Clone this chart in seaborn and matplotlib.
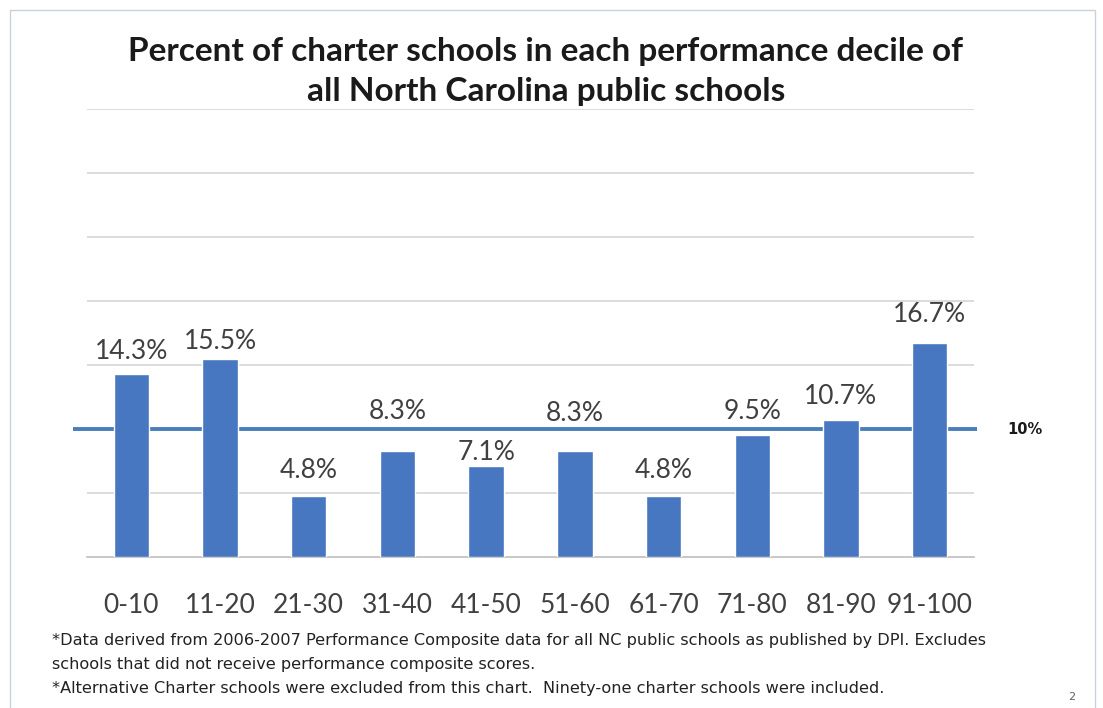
import matplotlib
matplotlib.use("Agg")
import matplotlib.pyplot as plt
from matplotlib.patches import Rectangle
from matplotlib.ticker import FixedLocator, NullFormatter
import seaborn as sns
import pandas as pd

# Performance deciles and the share of charter schools falling in each
deciles = ["0-10", "11-20", "21-30", "31-40", "41-50",
           "51-60", "61-70", "71-80", "81-90", "91-100"]
percent_charter = [14.3, 15.5, 4.8, 8.3, 7.1, 8.3, 4.8, 9.5, 10.7, 16.7]
reference_share = 10  # an even spread would put 10% in every decile

title_lines = ["Percent of charter schools in each performance decile of",
               "all North Carolina public schools"]
footnotes = [
    "*Data derived from 2006-2007 Performance Composite data for all NC public schools as published by DPI. Excludes",
    "schools that did not receive performance composite scores.",
    "*Alternative Charter schools were excluded from this chart.  Ninety-one charter schools were included.",
]

# vertical lift of each value label above its bar, in points
label_lift = [16, 12, 18, 28, 10, 27, 18, 17, 17, 21]

BAR = "#4777c1"
LINE = "#4a7ebb"
GRID = "#dcdcdc"
TEXT = "#404040"

W, H = 1103, 708
sns.set_theme(style="white")
plt.rcParams["font.family"] = ["Lato", "DejaVu Sans"]

fig = plt.figure(figsize=(W / 100, H / 100), dpi=100)
fig.patch.set_facecolor("white")

# slide frame
fig.add_artist(Rectangle((10 / W, -0.05), 1085 / W, 1.05 - 10 / H,
                         transform=fig.transFigure, fill=False,
                         edgecolor="#c9d2db", linewidth=1.0))

left, right, top, base = 87, 974, 109, 557
ax = fig.add_axes([left / W, 1 - base / H, (right - left) / W, (base - top) / H])

df = pd.DataFrame({"decile": deciles, "percent": percent_charter})
sns.barplot(data=df, x="decile", y="percent", color=BAR, saturation=1,
            width=0.4, ax=ax, zorder=3)

ax.set_xlim(-0.5, len(deciles) - 0.5)
ax.set_ylim(0, 35)
ax.set_xlabel("")
ax.set_ylabel("")

# horizontal gridlines every 5%
ax.set_yticks(range(5, 36, 5))
ax.yaxis.set_major_formatter(NullFormatter())
ax.tick_params(axis="y", length=0)
ax.grid(axis="y", color=GRID, linewidth=1.4, zorder=0)
ax.grid(axis="x", visible=False)

for side in ("left", "right", "top"):
    ax.spines[side].set_visible(False)
ax.spines["bottom"].set_color("#bfbfbf")
ax.spines["bottom"].set_linewidth(1.2)

# category labels under the bars, tick marks between categories
ax.tick_params(axis="x", which="major", length=0, pad=26,
               labelsize=19, labelcolor=TEXT)
ax.xaxis.set_minor_locator(FixedLocator([i - 0.5 for i in range(len(deciles) + 1)]))
ax.tick_params(axis="x", which="minor", length=7.5, width=1.0,
               color="#bfbfbf", direction="out")

# 10% reference line, running slightly past the plot on both sides
ax.plot([-0.66, len(deciles) - 0.47], [reference_share, reference_share],
        color=LINE, linewidth=2.8, zorder=2, clip_on=False, solid_capstyle="butt")
ax.text(1.037, reference_share, f"{reference_share}%", transform=ax.get_yaxis_transform(),
        ha="left", va="center", fontsize=10.5, fontweight="bold",
        color="#1a1a1a", family=["DejaVu Sans"])

# value labels
for i, (v, lift) in enumerate(zip(percent_charter, label_lift)):
    ax.annotate(f"{v:.1f}%", xy=(i, v), xytext=(0, lift),
                textcoords="offset points", ha="center", va="center",
                fontsize=19, color=TEXT, zorder=4)

# title
fig.text(546 / W, 1 - 61 / H, title_lines[0], ha="center", va="baseline",
         fontsize=24, fontweight="bold", color="#1a1a1a")
fig.text(546 / W, 1 - 101 / H, title_lines[1], ha="center", va="baseline",
         fontsize=24, fontweight="bold", color="#1a1a1a")

# notes below the chart
for y, line in zip([640, 665, 688], footnotes):
    fig.text(52 / W, 1 - y / H, line, ha="left", va="center",
             fontsize=11.6, color="#222222", family=["DejaVu Sans"])

fig.text(1072 / W, 1 - 697 / H, "2", ha="center", va="center",
         fontsize=8, color="#606060", family=["DejaVu Sans"])

fig.savefig("out.png", dpi=100, facecolor="white")
